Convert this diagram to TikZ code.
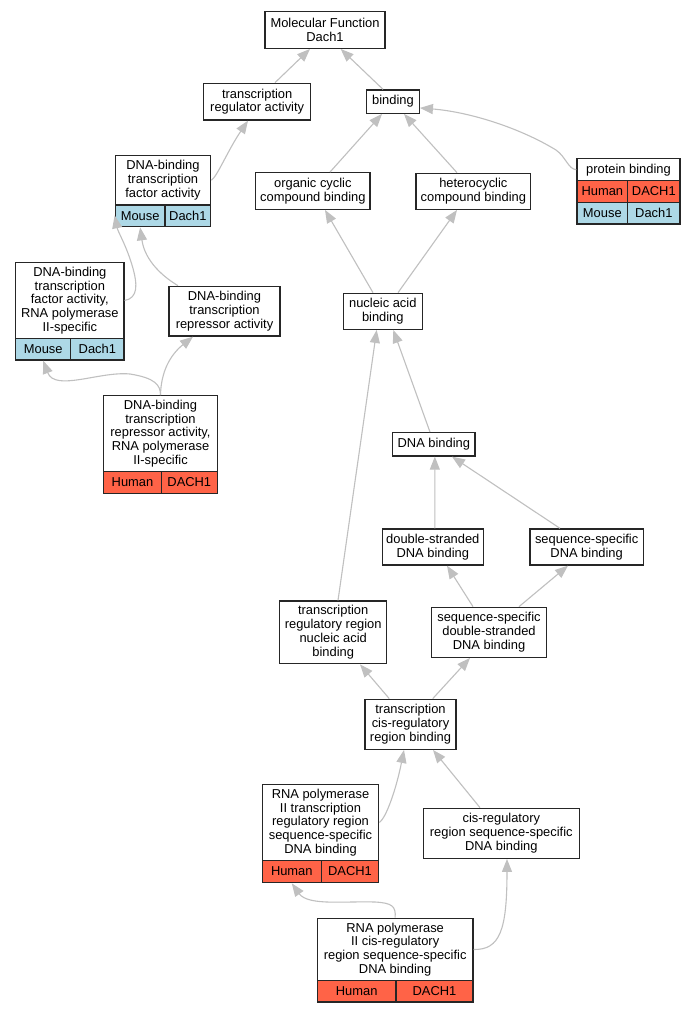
\documentclass[tikz,border=0pt]{standalone}
\usepackage{fontspec}
\setmainfont{Liberation Sans}
\usetikzlibrary{arrows.meta}
\definecolor{human}{HTML}{FF6347}
\definecolor{mouse}{HTML}{ADD8E6}
\definecolor{edgegray}{HTML}{C0C0C0}
\newcommand{\gvbox}[7]{\node[#2,minimum width={#5-#3},minimum height={#6-#4}] (#1) at ({(#3+#5)/2},{(#4+#6)/2}) {#7};}
\begin{document}
\begin{tikzpicture}[x=1pt,y=-1pt,
  box/.style={draw=black!85,line width=1.3pt,fill=white,inner sep=0pt,align=center,font=\fontsize{12.9}{13.8}\selectfont},
  hcell/.style={box,fill=human},
  mcell/.style={box,fill=mouse},
  edge/.style={draw=edgegray,line width=1.1pt,-{Triangle[length=13pt,width=10pt]}}]
\useasboundingbox[fill=white] (0,0) rectangle (695,1013);
\gvbox{n1}{box}{265}{11.7}{385}{48.3}{Molecular Function\\Dach1}
\gvbox{n2}{box}{203.7}{83.3}{310.7}{120}{transcription\\regulator activity}
\gvbox{n3}{box}{366.7}{90}{419.3}{113.3}{binding}
\gvbox{n4}{box}{115.3}{155.3}{210.7}{205}{DNA-binding\\transcription\\factor activity}
\gvbox{n4a}{mcell}{115.3}{205}{165}{226.7}{Mouse}
\gvbox{n4b}{mcell}{165}{205}{210.7}{226.7}{Dach1}
\gvbox{n5}{box}{255.7}{172.7}{370}{209.3}{organic cyclic\\compound binding}
\gvbox{n6}{box}{416}{173.3}{530.7}{209.3}{heterocyclic\\compound binding}
\gvbox{n7}{box}{577}{158.7}{680}{180.7}{protein binding}
\gvbox{n7a}{hcell}{577}{180.7}{627.7}{202.3}{Human}
\gvbox{n7b}{hcell}{627.7}{180.7}{680}{202.3}{DACH1}
\gvbox{n7c}{mcell}{577}{202.3}{627.7}{224}{Mouse}
\gvbox{n7d}{mcell}{627.7}{202.3}{680}{224}{Dach1}
\gvbox{n8}{box}{15.7}{262.3}{124}{338.7}{DNA-binding\\transcription\\factor activity,\\RNA polymerase\\II-specific}
\gvbox{n8a}{mcell}{15.7}{338.7}{70.7}{360}{Mouse}
\gvbox{n8b}{mcell}{70.7}{338.7}{124}{360}{Dach1}
\gvbox{n9}{box}{169}{286.3}{280}{336}{DNA-binding\\transcription\\repressor activity}
\gvbox{n10}{box}{103.7}{395.7}{217.3}{471.3}{DNA-binding\\transcription\\repressor activity,\\RNA polymerase\\II-specific}
\gvbox{n10a}{hcell}{103.7}{471.3}{161.3}{493.3}{Human}
\gvbox{n10b}{hcell}{161.3}{471.3}{217.3}{493.3}{DACH1}
\gvbox{n11}{box}{343.3}{293.3}{422.3}{329.3}{nucleic acid\\binding}
\gvbox{n12}{box}{392.7}{432.7}{475}{456}{DNA binding}
\gvbox{n13}{box}{382.3}{529}{483.3}{565}{double-stranded\\DNA binding}
\gvbox{n14}{box}{530}{529}{643.3}{565}{sequence-specific\\DNA binding}
\gvbox{n15}{box}{279.7}{601}{386.7}{663.7}{transcription\\regulatory region\\nucleic acid\\binding}
\gvbox{n16}{box}{431.7}{607.3}{546.3}{657.3}{sequence-specific\\double-stranded\\DNA binding}
\gvbox{n17}{box}{365}{699.3}{456}{749.3}{transcription\\cis-regulatory\\region binding}
\gvbox{n18}{box}{262.3}{784.7}{378.7}{860.3}{RNA polymerase\\II transcription\\regulatory region\\sequence-specific\\DNA binding}
\gvbox{n18a}{hcell}{262.3}{860.3}{321.3}{882.7}{Human}
\gvbox{n18b}{hcell}{321.3}{860.3}{378.7}{882.7}{DACH1}
\gvbox{n19}{box}{423.3}{808.3}{579.3}{858.3}{cis-regulatory\\region sequence-specific\\DNA binding}
\gvbox{n20}{box}{317.3}{918.3}{473}{980.7}{RNA polymerase\\II cis-regulatory\\region sequence-specific\\DNA binding}
\gvbox{n20a}{hcell}{317.3}{980.7}{396}{1002}{Human}
\gvbox{n20b}{hcell}{396}{980.7}{473}{1002}{DACH1}
% edges
\draw[edge] ([xshift=17.8pt]n2.north) -- ([xshift=-15pt]n1.south);
\draw[edge] ([xshift=-10pt]n3.north) -- ([xshift=15.7pt]n1.south);
\draw[edge] (n4.east) .. controls (217,177) and (228,150) .. ([xshift=-9.2pt]n2.south);
\draw[edge] ([xshift=17.15pt]n5.north) -- ([xshift=-11pt]n3.south);
\draw[edge] ([xshift=-16.35pt]n6.north) -- ([xshift=11pt]n3.south);
\draw[edge] (n7.west) .. controls (568,169) and (566,157) .. (556,150) .. controls (520,128) and (470,112) .. ([yshift=-6.3pt]n3.east);
\draw[edge] ([xshift=-9.8pt]n11.north) -- ([xshift=12.15pt]n5.south);
\draw[edge] ([xshift=15.2pt]n11.north) -- ([xshift=-16.35pt]n6.south);
\draw[edge] (n8.east) .. controls (138,298) and (138,285) .. (132,265) .. controls (126,245) and (118,232) .. ([yshift=12pt]n4a.south west);
\draw[edge] ([xshift=-46.5pt]n9.north) .. controls (165,278) and (145,262) .. (n4a.south);
\draw[edge] (n10.north) .. controls (160.5,385) and (155,378) .. (130,374) .. controls (100,371) and (55,392) .. (n8a.south);
\draw[edge] (n10.north) .. controls (161,372) and (170,355) .. ([xshift=-31.5pt]n9.south);
\draw[edge] ([xshift=-3.85pt]n12.north) -- ([xshift=10.5pt]n11.south);
\draw[edge] ([xshift=4.8pt]n15.north) -- ([xshift=-6.1pt]n11.south);
\draw[edge] ([xshift=2pt]n13.north) -- ([xshift=1pt]n12.south);
\draw[edge] ([xshift=-26.65pt]n14.north) -- ([xshift=18.15pt]n12.south);
\draw[edge] ([xshift=-16pt]n16.north) -- ([xshift=14.2pt]n13.south);
\draw[edge] ([xshift=30pt]n16.north) -- ([xshift=-18.65pt]n14.south);
\draw[edge] ([xshift=-21.2pt]n17.north) -- ([xshift=26.8pt]n15.south);
\draw[edge] ([xshift=22.2pt]n17.north) -- ([xshift=-19pt]n16.south);
\draw[edge] (n18.east) .. controls (386,818) and (396,790) .. ([xshift=-6.5pt]n17.south);
\draw[edge] ([xshift=-21.3pt]n19.north) -- ([xshift=22.5pt]n17.south);
\draw[edge] (n20.north) .. controls (396,906) and (392,903) .. (375,902) .. controls (345,901) and (308,906) .. (n18a.south);
\draw[edge] (n20.east) .. controls (500,950) and (507,930) .. ([xshift=5.7pt]n19.south);
\end{tikzpicture}
\end{document}
